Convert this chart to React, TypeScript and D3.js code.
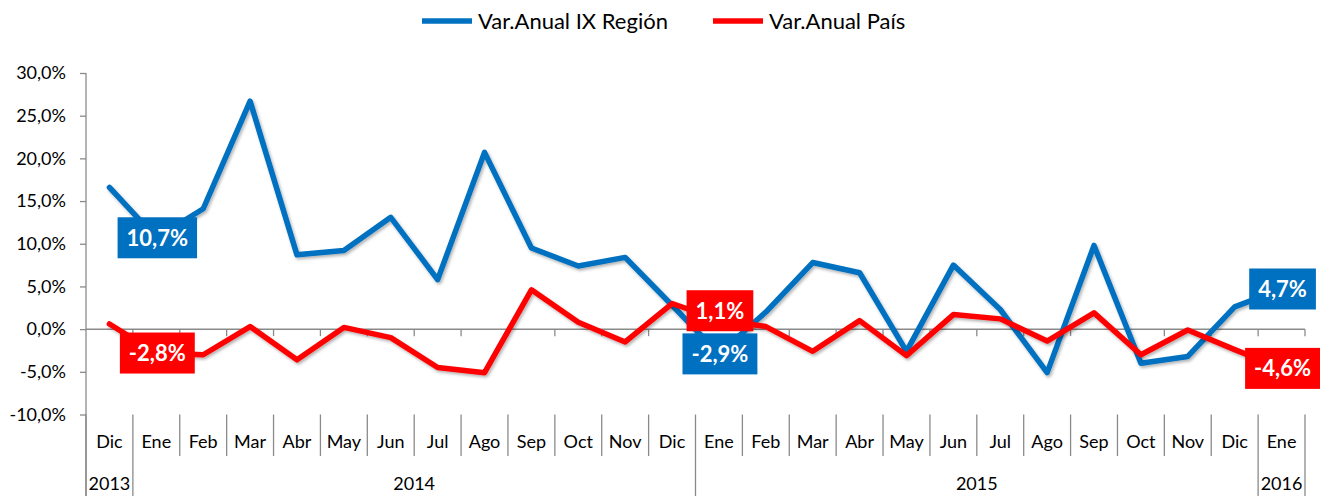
import React, { useEffect, useRef } from "react";
import * as d3 from "d3";

const months = ["Dic", "Ene", "Feb", "Mar", "Abr", "May", "Jun", "Jul", "Ago", "Sep", "Oct", "Nov", "Dic",
  "Ene", "Feb", "Mar", "Abr", "May", "Jun", "Jul", "Ago", "Sep", "Oct", "Nov", "Dic", "Ene"];
const yearLabels = ["2013", "2014", "2015", "2016"];
const yearSpans = [1, 12, 12, 1];
const regionValues = [16.6, 10.7, 14.1, 26.7, 8.7, 9.2, 13.1, 5.8, 20.7, 9.5, 7.4, 8.4, 2.8,
  -2.9, 2.0, 7.8, 6.6, -2.6, 7.5, 2.3, -5.1, 9.8, -4.0, -3.2, 2.6, 4.7];
const countryValues = [0.6, -2.8, -3.0, 0.3, -3.6, 0.2, -1.0, -4.5, -5.1, 4.6, 0.8, -1.5, 3.0,
  1.1, 0.3, -2.6, 1.0, -3.1, 1.7, 1.2, -1.4, 1.9, -3.0, -0.1, -2.4, -4.6];
const yTicks = [-10, -5, 0, 5, 10, 15, 20, 25, 30];
const labeledIndices = [1, 13, 25];
const seriesNames = ["Var.Anual IX Región", "Var.Anual País"];
const seriesColors = ["#0070C0", "#FF0000"];

const fmt = (v: number) => (v < 0 ? "-" : "") + Math.abs(v).toFixed(1).replace(".", ",") + "%";

export default function App() {
  const ref = useRef<SVGSVGElement>(null);
  useEffect(() => {
    const svg = d3.select(ref.current);
    svg.selectAll("*").remove();
    const W = 1320, H = 496;
    const left = 86, right = 1305, top = 73, bottom = 414.5;
    const font = "Lato, 'Open Sans', sans-serif";
    const axisColor = "#8a8a8a";
    const x = d3.scaleBand<number>().domain(d3.range(months.length)).range([left, right]);
    const y = d3.scaleLinear().domain([-10, 30]).range([bottom, top]);
    const step = x.step();

    const defs = svg.append("defs");
    const f = defs.append("filter").attr("id", "sh").attr("x", "-5%").attr("y", "-5%").attr("width", "110%").attr("height", "120%");
    f.append("feDropShadow").attr("dx", 1.5).attr("dy", 2).attr("stdDeviation", 1.5).attr("flood-color", "#000").attr("flood-opacity", 0.3);

    // Y axis
    const yAxis = d3.axisLeft(y).tickValues(yTicks).tickFormat((d: any) => fmt(d)).tickSize(6).tickSizeOuter(0).tickPadding(14);
    const gy = svg.append("g").attr("transform", `translate(${left},0)`).call(yAxis);
    gy.select(".domain").remove();
    gy.selectAll("line").attr("stroke", axisColor).attr("stroke-width", 1.3);
    gy.selectAll("text").attr("font-family", font).attr("font-size", 18).attr("fill", "#000");
    svg.append("line").attr("x1", left).attr("x2", left).attr("y1", top).attr("y2", H)
      .attr("stroke", axisColor).attr("stroke-width", 1.3);

    // zero line with ticks
    const y0 = y(0);
    svg.append("line").attr("x1", left).attr("x2", right).attr("y1", y0).attr("y2", y0)
      .attr("stroke", axisColor).attr("stroke-width", 1.5);
    d3.range(1, months.length + 1).forEach(i => {
      const xx = left + i * step;
      svg.append("line").attr("x1", xx).attr("x2", xx).attr("y1", y0).attr("y2", y0 + 7)
        .attr("stroke", axisColor).attr("stroke-width", 1.3);
    });

    // category separators
    const yearBounds = new Set<number>();
    let acc = 0;
    yearBounds.add(0);
    yearSpans.forEach(s => { acc += s; yearBounds.add(acc); });
    d3.range(0, months.length + 1).forEach(i => {
      const xx = left + i * step;
      svg.append("line").attr("x1", xx).attr("x2", xx).attr("y1", bottom)
        .attr("y2", yearBounds.has(i) ? H : 456)
        .attr("stroke", axisColor).attr("stroke-width", 1.3);
    });
    months.forEach((m, i) => {
      svg.append("text").attr("x", (x(i) as number) + step / 2).attr("y", 448)
        .attr("text-anchor", "middle").attr("font-family", font).attr("font-size", 18).text(m);
    });
    acc = 0;
    yearLabels.forEach((yl, k) => {
      const x1 = left + acc * step;
      acc += yearSpans[k];
      const x2 = left + acc * step;
      svg.append("text").attr("x", (x1 + x2) / 2).attr("y", 490)
        .attr("text-anchor", "middle").attr("font-family", font).attr("font-size", 18).text(yl);
    });

    // lines
    const line = d3.line<number>().x((_, i) => (x(i) as number) + step / 2).y(d => y(d));
    [regionValues, countryValues].forEach((vals, s) => {
      svg.append("path").attr("d", line(vals) as string).attr("fill", "none")
        .attr("stroke", seriesColors[s]).attr("stroke-width", 5.5)
        .attr("stroke-linejoin", "round").attr("stroke-linecap", "round")
        .attr("filter", "url(#sh)");
    });

    // data labels
    [regionValues, countryValues].forEach((vals, s) => {
      labeledIndices.forEach(i => {
        const cx = (x(i) as number) + step / 2 + 1;
        const dy = (s === 1 && i === 13) ? -9 : 0;
        const cy = y(vals[i]) + dy;
        const g = svg.append("g");
        const rect = g.append("rect").attr("fill", seriesColors[s]);
        const t = g.append("text").attr("x", cx).attr("y", cy).attr("dy", "0.36em")
          .attr("text-anchor", "middle").attr("font-family", font).attr("font-weight", 700)
          .attr("font-size", 22).attr("fill", "#fff").text(fmt(vals[i]));
        const bb = (t.node() as SVGTextElement).getBBox();
        const w = bb.width + 18, h = 41;
        rect.attr("x", cx - w / 2).attr("y", cy - h / 2).attr("width", w).attr("height", h);
      });
    });

    // legend
    const legX = [422, 713];
    seriesNames.forEach((n, s) => {
      svg.append("line").attr("x1", legX[s]).attr("x2", legX[s] + 50).attr("y1", 21).attr("y2", 21)
        .attr("stroke", seriesColors[s]).attr("stroke-width", 5.5);
      svg.append("text").attr("x", legX[s] + 56).attr("y", 29).attr("font-family", font)
        .attr("font-size", 22).attr("fill", "#000").text(n);
    });
  }, []);
  return <svg ref={ref} width={1320} height={496} style={{ position: "absolute", left: 0, top: 0, background: "#fff" }} />;
}
